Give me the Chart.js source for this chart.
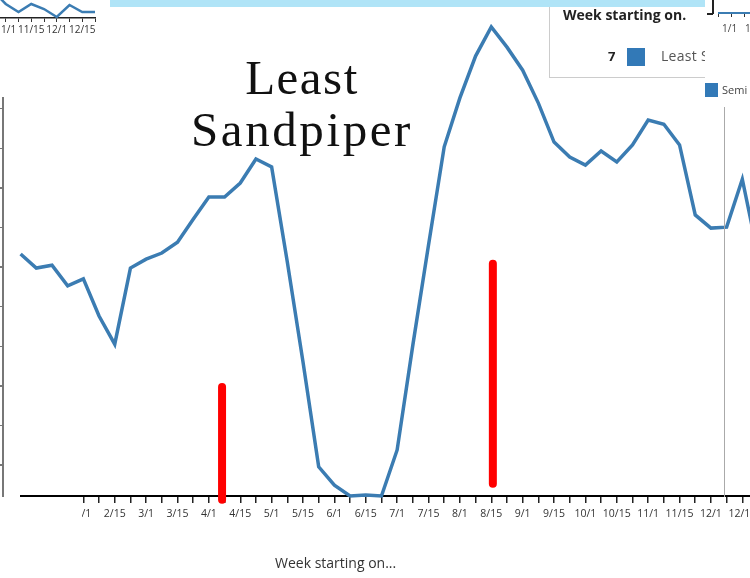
<!DOCTYPE html>
<html>
<head>
<meta charset="utf-8">
<script src="https://cdn.jsdelivr.net/npm/chart.js@4"></script>
<style>
  body { margin: 0; width: 750px; height: 578px; overflow: hidden; position: relative; background: #fff; font-family: "Open Sans", sans-serif; }
  canvas { position: absolute; }
  .abs { position: absolute; }
</style>
</head>
<body>
<canvas id="grafica" width="800" height="578" style="left:0;top:0"></canvas>
<canvas id="mini" width="113" height="40" style="left:-9px;top:0"></canvas>

<!-- pieces of the other screenshots around the chart -->
<div class="abs" style="left:0;top:499px;width:82px;height:24px;background:#fff"></div>
<div class="abs" style="left:2px;top:97px;width:2px;height:400px;background:#777"></div>
<div class="abs" style="left:0;top:108px;width:3px;height:360px;background:repeating-linear-gradient(to bottom,#777 0,#777 1.5px,transparent 1.5px,transparent 39.6px)"></div>
<div class="abs" style="left:724px;top:107px;width:1px;height:390px;background:#aaa"></div>

<div class="abs" style="left:110px;top:0;width:595px;height:7px;background:#b0e4f7;z-index:3"></div>
<div class="abs" style="left:549px;top:-2px;width:156px;height:79px;border-left:1px solid #ccc;border-bottom:1px solid #ccc;background:#fff;overflow:hidden;z-index:2">
  <div class="abs" style="left:13px;top:7px;font-weight:bold;font-size:14px;color:#222;white-space:nowrap">Week starting on.</div>
  <div class="abs" style="left:58px;top:49px;font-weight:bold;font-size:13px;color:#222">7</div>
  <div class="abs" style="left:77px;top:50px;width:18px;height:18px;background:#3279b7"></div>
  <div class="abs" style="left:111px;top:48px;font-size:14px;letter-spacing:0.3px;color:#555;white-space:nowrap">Least Sandpiper</div>
</div>
<div class="abs" style="left:705px;top:0;width:45px;height:80px;background:#fff;z-index:2">
  <div class="abs" style="left:7px;top:0;width:1.5px;height:14px;background:#222"></div>
  <div class="abs" style="left:2px;top:13px;width:6px;height:1.5px;background:#222"></div>
  <div class="abs" style="left:13px;top:12px;width:32px;height:2px;background:#3b7cb2"></div>
  <div class="abs" style="left:13px;top:14px;width:1px;height:3px;background:#333"></div>
  <div class="abs" style="left:26px;top:14px;width:1px;height:3px;background:#333"></div>
  <div class="abs" style="left:39px;top:14px;width:1px;height:3px;background:#333"></div>
  <div class="abs" style="left:17px;top:21px;font-size:10px;color:#444;white-space:nowrap">1/1&nbsp;&nbsp;&nbsp;1</div>
</div>
<div class="abs" style="left:705px;top:83px;width:13px;height:14px;background:#3279b7"></div>
<div class="abs" style="left:722px;top:82px;font-size:11px;color:#444">Semi</div>

<div class="abs" style="left:182px;top:52px;width:240px;text-align:center;font-family:'Liberation Serif',serif;font-size:49px;line-height:52px;color:#111">
  <span style="letter-spacing:1.5px">Least</span><br><span style="letter-spacing:2.6px">Sandpiper</span>
</div>
<div class="abs" style="left:275px;top:553px;font-size:14px;color:#333">Week starting on...</div>

<script>
var semanas = ["1/1","1/8","1/15","1/22","2/1","2/8","2/15","2/22","3/1","3/8","3/15","3/22",
               "4/1","4/8","4/15","4/22","5/1","5/8","5/15","5/22","6/1","6/8","6/15","6/22",
               "7/1","7/8","7/15","7/22","8/1","8/8","8/15","8/22","9/1","9/8","9/15","9/22",
               "10/1","10/8","10/15","10/22","11/1","11/8","11/15","11/22","12/1","12/8","12/15","12/22"];
var leastSandpiper = [51.5,48.5,49.1,44.7,46.2,38.3,32.3,48.5,50.4,51.7,54.0,58.9,
                      63.6,63.6,66.6,71.7,70.0,49.8,28.5,6.2,2.3,0,0.2,0,
                      9.8,32.1,53.4,74.3,84.7,93.6,99.8,95.5,90.6,83.6,75.3,72.1,
                      70.4,73.4,71.1,74.7,80.0,79.1,74.7,59.8,57.0,57.2,67.4,51.3];
// red highlight marks: week position, top and bottom value
var marcaSemana = [12.84, 30.1];
var marcaArriba = [23.2, 49.4];
var marcaAbajo = [-0.8, 2.6];

var miniSemanas = ["10/22","11/1","11/8","11/15","11/22","12/1","12/8","12/15","12/22"];
var miniValores = [27, 14, 6, 14, 9, 1, 13, 6, 6];

var azul = '#3b7cb2';

var marcasRojas = {
    id: 'marcasRojas',
    afterDatasetsDraw: function(chart) {
        var ctx = chart.ctx, x = chart.scales.x, y = chart.scales.y;
        ctx.save();
        ctx.strokeStyle = '#ff0000';
        ctx.lineWidth = 8;
        ctx.lineCap = 'round';
        marcaSemana.forEach(function(s, i) {
            var px = x.getPixelForValue(s);
            ctx.beginPath();
            ctx.moveTo(px, y.getPixelForValue(marcaArriba[i]));
            ctx.lineTo(px, y.getPixelForValue(marcaAbajo[i]));
            ctx.stroke();
        });
        ctx.restore();
    }
};

new Chart(document.getElementById("grafica").getContext('2d'), {
    type: "line",
    data: {
        labels: semanas,
        datasets: [{
            label: "Least Sandpiper",
            data: leastSandpiper,
            borderColor: azul,
            borderWidth: 3.5,
            pointRadius: 0,
            tension: 0,
            fill: false,
            clip: 8
        }]
    },
    options: {
        responsive: false,
        animation: false,
        layout: { padding: { left: 20.6, right: 42, top: 26, bottom: 0 } },
        plugins: { legend: { display: false }, tooltip: { enabled: false } },
        scales: {
            x: {
                afterFit: function(s) { s.height = 82; },
                border: { color: '#000', width: 2 },
                grid: {
                    drawOnChartArea: false,
                    tickLength: 7,
                    lineWidth: 1.5,
                    color: function(c) { return c.index < 4 ? 'rgba(0,0,0,0)' : '#222'; }
                },
                ticks: {
                    autoSkip: false,
                    maxRotation: 0,
                    padding: 5,
                    color: '#333',
                    font: { family: 'Open Sans', size: 10.5 },
                    callback: function(v, i) {
                        var l = semanas[i];
                        return (i >= 4 && (/\/1$/.test(l) || /\/15$/.test(l))) ? l : '';
                    }
                }
            },
            y: { display: false, min: 0, max: 100 }
        }
    },
    plugins: [marcasRojas]
});

new Chart(document.getElementById("mini").getContext('2d'), {
    type: "line",
    data: {
        labels: miniSemanas,
        datasets: [{ data: miniValores, borderColor: azul, borderWidth: 2.5, pointRadius: 0, tension: 0, clip: false }]
    },
    options: {
        responsive: false,
        animation: false,
        layout: { padding: { left: 0, right: 9, top: 0, bottom: 0 } },
        plugins: { legend: { display: false }, tooltip: { enabled: false } },
        scales: {
            x: {
                afterFit: function(s) { s.height = 22; },
                border: { color: '#222', width: 1.5 },
                grid: { drawOnChartArea: false, tickLength: 4, color: '#333' },
                ticks: {
                    autoSkip: false, maxRotation: 0, padding: 2, color: '#333',
                    font: { family: 'Open Sans', size: 10 },
                    callback: function(v, i) { return [1, 3, 5, 7].includes(i) ? miniSemanas[i] : ''; }
                }
            },
            y: { display: false, min: 0, max: 18 }
        }
    }
});
</script>
</body>
</html>
